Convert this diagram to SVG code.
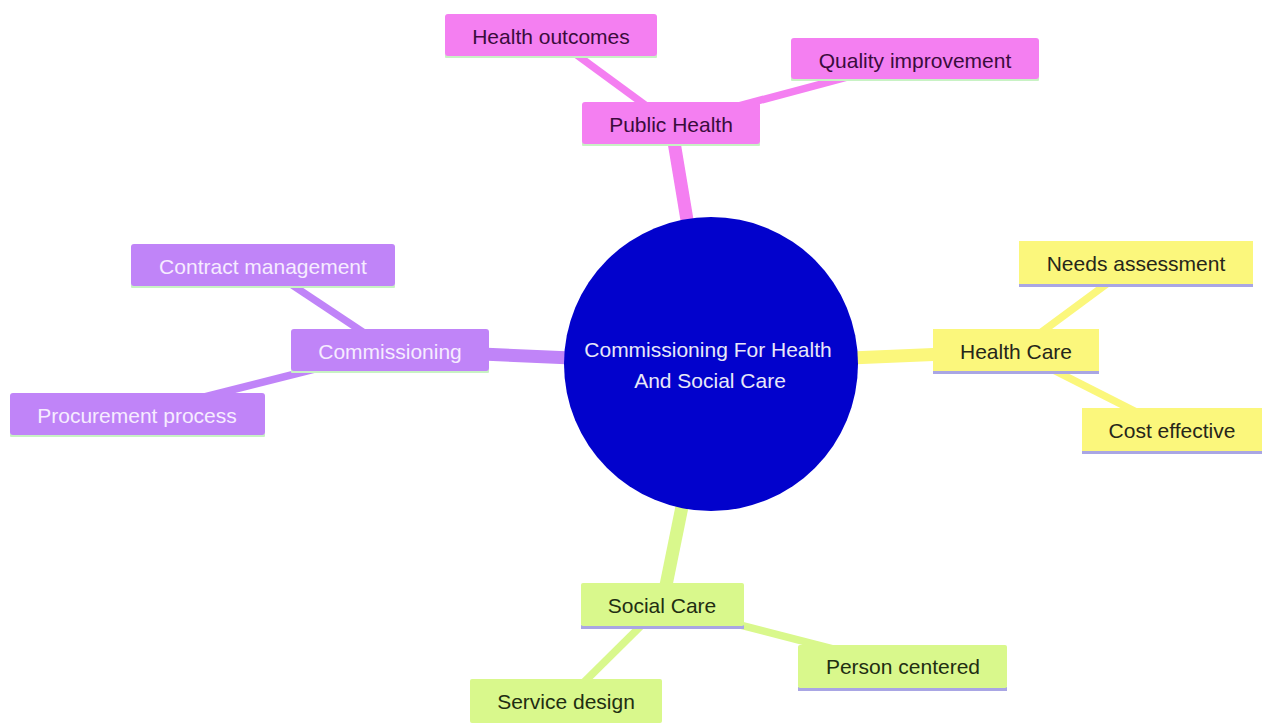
<svg xmlns="http://www.w3.org/2000/svg" width="1262" height="723" viewBox="0 0 1262 723">
<style>
  text { font-family: "Liberation Sans", Arial, sans-serif; font-size: 21px; text-anchor: middle; dominant-baseline: central; }
  .pink rect.box { fill: #f47ff1; }
  .pink text { fill: #3a0c3c; }
  .purple rect.box { fill: #c084f8; }
  .purple text { fill: #f6ecff; }
  .yellow rect.box { fill: #fbf77c; }
  .yellow text { fill: #26261a; }
  .green rect.box { fill: #d9f88c; }
  .green text { fill: #1f2e12; }
  .lg { fill: #c8f2c4; }
  .ll { fill: #a9a6e4; }
  .main { stroke-width: 13; stroke-linecap: butt; fill: none; }
  .sub { stroke-width: 7.5; stroke-linecap: butt; fill: none; }
  .cp { stroke: #f47ff1; }
  .cu { stroke: #c084f8; }
  .cy { stroke: #fbf77c; }
  .cg { stroke: #d9f88c; }
</style>
<rect width="1262" height="723" fill="#ffffff"/>
<g id="connectors">
  <line class="main cp" x1="711" y1="364" x2="671" y2="124"/>
  <line class="main cu" x1="711" y1="364" x2="390" y2="350"/>
  <line class="main cy" x1="711" y1="364" x2="1016" y2="351"/>
  <line class="main cg" x1="711" y1="364" x2="662" y2="605"/>
  <line class="sub cp" x1="671" y1="124" x2="551" y2="36"/>
  <line class="sub cp" x1="671" y1="124" x2="915" y2="59"/>
  <line class="sub cu" x1="390" y1="350" x2="262" y2="265"/>
  <line class="sub cu" x1="390" y1="350" x2="137" y2="414"/>
  <line class="sub cy" x1="1016" y1="351" x2="1135" y2="263"/>
  <line class="sub cy" x1="1016" y1="351" x2="1172" y2="430"/>
  <line class="sub cg" x1="662" y1="605" x2="566" y2="700"/>
  <line class="sub cg" x1="662" y1="605" x2="903" y2="667"/>
</g>
<g id="center">
  <circle cx="711" cy="364" r="147" fill="#0202cc"/>
  <text x="708" y="349" fill="#e8e8f8">Commissioning For Health</text>
  <text x="710" y="380" fill="#e8e8f8">And Social Care</text>
</g>
<g id="public-health" class="pink">
  <rect class="lg" x="582" y="142" width="178" height="4" rx="1"/>
  <rect class="box" x="582" y="102" width="178" height="42" rx="3"/>
  <text x="671" y="124">Public Health</text>
</g>
<g id="health-outcomes" class="pink">
  <rect class="lg" x="445" y="54" width="212" height="4" rx="1"/>
  <rect class="box" x="445" y="14" width="212" height="42" rx="3"/>
  <text x="551" y="36">Health outcomes</text>
</g>
<g id="quality-improvement" class="pink">
  <rect class="lg" x="791" y="77" width="248" height="4" rx="1"/>
  <rect class="box" x="791" y="38" width="248" height="41" rx="3"/>
  <text x="915" y="60">Quality improvement</text>
</g>
<g id="commissioning" class="purple">
  <rect class="lg" x="291" y="369" width="198" height="4" rx="1"/>
  <rect class="box" x="291" y="329" width="198" height="42" rx="3"/>
  <text x="390" y="351">Commissioning</text>
</g>
<g id="contract-management" class="purple">
  <rect class="lg" x="131" y="284" width="264" height="4" rx="1"/>
  <rect class="box" x="131" y="244" width="264" height="42" rx="3"/>
  <text x="263" y="266">Contract management</text>
</g>
<g id="procurement-process" class="purple">
  <rect class="lg" x="10" y="433" width="255" height="4" rx="1"/>
  <rect class="box" x="10" y="393" width="255" height="42" rx="3"/>
  <text x="137" y="415">Procurement process</text>
</g>
<g id="health-care" class="yellow">
  <rect class="ll" x="933" y="370" width="166" height="4"/>
  <rect class="box" x="933" y="329" width="166" height="42"/>
  <text x="1016" y="351">Health Care</text>
</g>
<g id="needs-assessment" class="yellow">
  <rect class="ll" x="1019" y="283" width="234" height="4"/>
  <rect class="box" x="1019" y="241" width="234" height="43"/>
  <text x="1136" y="263">Needs assessment</text>
</g>
<g id="cost-effective" class="yellow">
  <rect class="ll" x="1082" y="450" width="182" height="4"/>
  <rect class="box" x="1082" y="408" width="182" height="43"/>
  <text x="1172" y="430">Cost effective</text>
</g>
<g id="social-care" class="green">
  <rect class="ll" x="581" y="625" width="163" height="4"/>
  <rect class="box" x="581" y="583" width="163" height="43" rx="2"/>
  <text x="662" y="605">Social Care</text>
</g>
<g id="person-centered" class="green">
  <rect class="ll" x="798" y="687" width="209" height="4"/>
  <rect class="box" x="798" y="645" width="209" height="43" rx="2"/>
  <text x="903" y="666">Person centered</text>
</g>
<g id="service-design" class="green">
  <rect class="box" x="470" y="679" width="192" height="44" rx="2"/>
  <text x="566" y="701">Service design</text>
</g>
</svg>
